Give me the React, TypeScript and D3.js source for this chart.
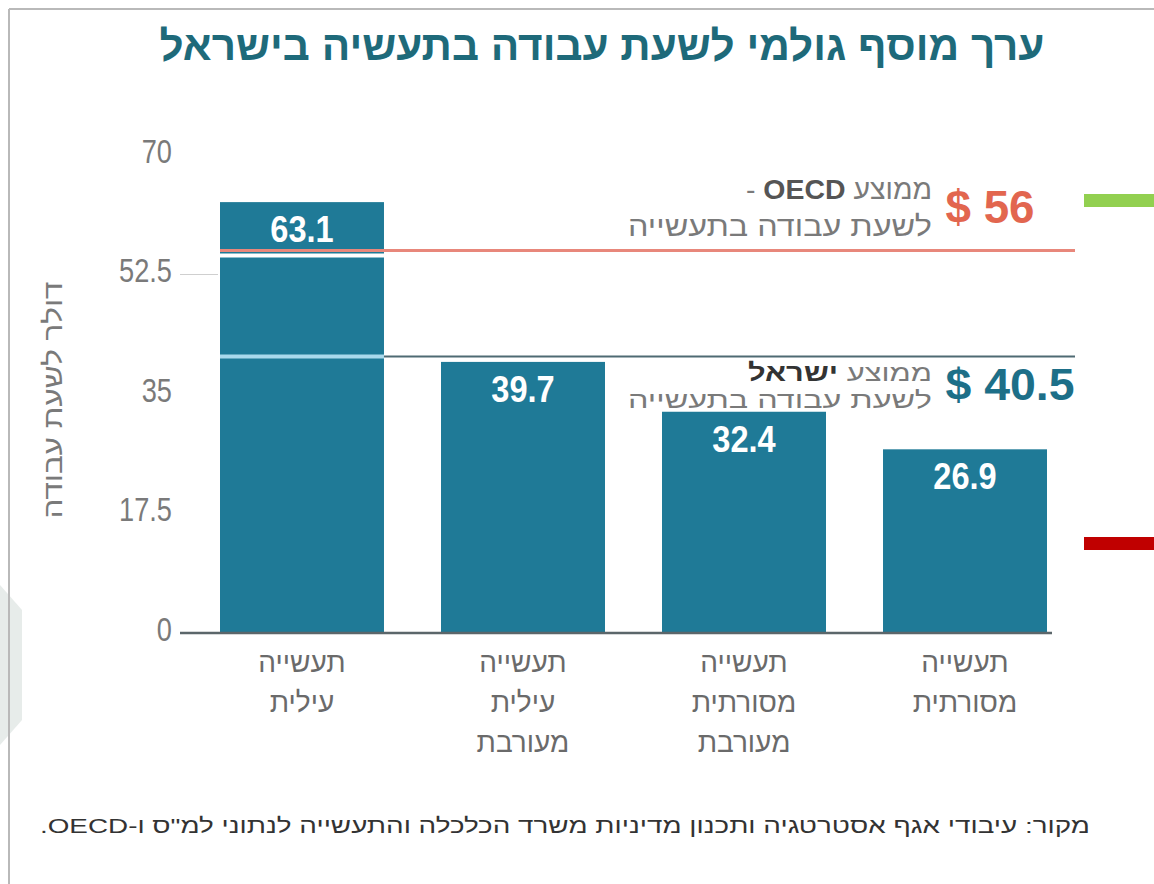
import { useMemo } from "react";
import * as d3 from "d3";

// chart data
const categoryLines = [
  ["תעשייה", "עילית"],
  ["תעשייה", "עילית", "מעורבת"],
  ["תעשייה", "מסורתית", "מעורבת"],
  ["תעשייה", "מסורתית"],
];
const values = [63.1, 39.7, 32.4, 26.9];
const yTicks = [0, 17.5, 35, 52.5, 70];
const oecdAvg = 56;
const israelAvg = 40.5;

const title = "ערך מוסף גולמי לשעת עבודה בתעשיה בישראל";
const yTitle = "דולר לשעת עבודה";
const source = "מקור: עיבודי אגף אסטרטגיה ותכנון מדיניות משרד הכלכלה והתעשייה לנתוני למ\"ס ו-OECD.";

const W = 1154;
const H = 884;
const BAR = "#1f7a97";
const SANS = "'Liberation Sans', 'DejaVu Sans', sans-serif";

export default function App() {
  const x = useMemo(
    () =>
      d3
        .scaleBand<number>()
        .domain(d3.range(values.length))
        .range([220, 1047])
        .paddingInner(0.258)
        .paddingOuter(0),
    []
  );
  const y = useMemo(() => d3.scaleLinear().domain([0, 70]).range([633, 155]), []);

  const lineX0 = x.range()[0];
  const lineX1 = 1075;
  const bar1Right = (x(0) as number) + x.bandwidth();
  const yO = y(oecdAvg);
  const yI = y(israelAvg);

  return (
    <svg
      width={W}
      height={H}
      style={{ position: "absolute", left: 0, top: 0, background: "#fff" }}
    >
      {/* frame */}
      <polygon points="0,585 22,610 22,720 0,745" fill="#e7ecea" />
      <line x1={9} y1={9} x2={W} y2={9} stroke="#b9b9b9" strokeWidth={2} />
      <line x1={9} y1={9} x2={9} y2={H} stroke="#b9b9b9" strokeWidth={2} />

      {/* title */}
      <text
        x={602}
        y={60}
        textAnchor="middle"
        direction="rtl"
        fontFamily={SANS}
        fontWeight="bold"
        fontSize={42}
        fill="#1e6a7a"
        textLength={885}
        lengthAdjust="spacingAndGlyphs"
      >
        {title}
      </text>

      {/* y axis */}
      {yTicks.map((t) => (
        <text
          key={t}
          transform={`translate(172,${y(t) - 4}) scale(0.8,1)`}
          textAnchor="end"
          dominantBaseline="central"
          fontFamily={SANS}
          fontSize={34}
          fill="#7a7a7a"
        >
          {t}
        </text>
      ))}
      <line x1={180} x2={218} y1={y(52.5)} y2={y(52.5)} stroke="#cfcfcf" strokeWidth={1} />
      <text
        transform="translate(62,400) rotate(-90)"
        textAnchor="middle"
        direction="rtl"
        fontFamily={SANS}
        fontSize={26}
        fill="#7a7a7a"
        textLength={237}
        lengthAdjust="spacingAndGlyphs"
      >
        {yTitle}
      </text>

      {/* bars */}
      {values.map((v, i) => (
        <g key={i}>
          <rect
            x={x(i)}
            y={y(v)}
            width={x.bandwidth()}
            height={y(0) - y(v)}
            fill={BAR}
          />
          <text
            transform={`translate(${(x(i) as number) + x.bandwidth() / 2},${y(v) + 40}) scale(0.88,1)`}
            textAnchor="middle"
            fontFamily={SANS}
            fontWeight="bold"
            fontSize={37}
            fill="#fff"
          >
            {v}
          </text>
          {categoryLines[i].map((l, j) => (
            <text
              key={j}
              x={(x(i) as number) + x.bandwidth() / 2}
              y={672 + j * 40}
              textAnchor="middle"
              direction="rtl"
              fontFamily={SANS}
              fontSize={28}
              fill="#6a6a6a"
            >
              {l}
            </text>
          ))}
        </g>
      ))}

      {/* baseline */}
      <line x1={180} x2={1052} y1={y(0)} y2={y(0)} stroke="#5b666a" strokeWidth={2.5} />

      {/* OECD average */}
      <line x1={lineX0} x2={lineX1} y1={yO} y2={yO} stroke="#e8877b" strokeWidth={3} />
      <line x1={lineX0} x2={bar1Right} y1={yO + 5} y2={yO + 5} stroke="#fff" strokeWidth={4} />
      <text
        x={932 - 93}
        y={yO - 52}
        textAnchor="middle"
        direction="rtl"
        fontFamily={SANS}
        fontSize={28}
        fill="#7a7a7a"
        textLength={186}
        lengthAdjust="spacingAndGlyphs"
      >
        {"ממוצע "}
        <tspan fontWeight="bold" fill="#555">OECD</tspan>
        {" -"}
      </text>
      <text
        x={932 - 152}
        y={yO - 15}
        textAnchor="middle"
        direction="rtl"
        fontFamily={SANS}
        fontSize={28}
        fill="#7a7a7a"
        textLength={304}
        lengthAdjust="spacingAndGlyphs"
      >
        לשעת עבודה בתעשייה
      </text>
      <text
        x={990}
        y={yO - 28}
        textAnchor="middle"
        fontFamily={SANS}
        fontWeight="bold"
        fontSize={46}
        fill="#e2664f"
        textLength={89}
        lengthAdjust="spacingAndGlyphs"
      >
        $ {oecdAvg}
      </text>

      {/* Israel average */}
      <line x1={bar1Right} x2={lineX1} y1={yI} y2={yI} stroke="#4f6a73" strokeWidth={2} />
      <line x1={lineX0} x2={bar1Right} y1={yI} y2={yI} stroke="#a9d9ec" strokeWidth={4} />
      <text
        x={932 - 92}
        y={yI + 25}
        textAnchor="middle"
        direction="rtl"
        fontFamily={SANS}
        fontSize={24}
        fill="#7a7a7a"
        textLength={184}
        lengthAdjust="spacingAndGlyphs"
      >
        {"ממוצע "}
        <tspan fontWeight="bold" fill="#333">ישראל</tspan>
      </text>
      <text
        x={932 - 152}
        y={yI + 52}
        textAnchor="middle"
        direction="rtl"
        fontFamily={SANS}
        fontSize={24}
        fill="#7a7a7a"
        textLength={304}
        lengthAdjust="spacingAndGlyphs"
      >
        לשעת עבודה בתעשייה
      </text>
      <text
        x={1010}
        y={yI + 44}
        textAnchor="middle"
        fontFamily={SANS}
        fontWeight="bold"
        fontSize={44}
        fill="#1d6f88"
        textLength={129}
        lengthAdjust="spacingAndGlyphs"
      >
        $ {israelAvg}
      </text>

      {/* source */}
      <text
        x={565}
        y={833}
        textAnchor="middle"
        direction="rtl"
        fontFamily={SANS}
        fontSize={21}
        fill="#333"
        textLength={1050}
        lengthAdjust="spacingAndGlyphs"
      >
        {source}
      </text>

      {/* side markers */}
      <rect x={1084} y={194} width={70} height={13} fill="#92d050" />
      <rect x={1084} y={537} width={70} height={13} fill="#c00000" />
    </svg>
  );
}
